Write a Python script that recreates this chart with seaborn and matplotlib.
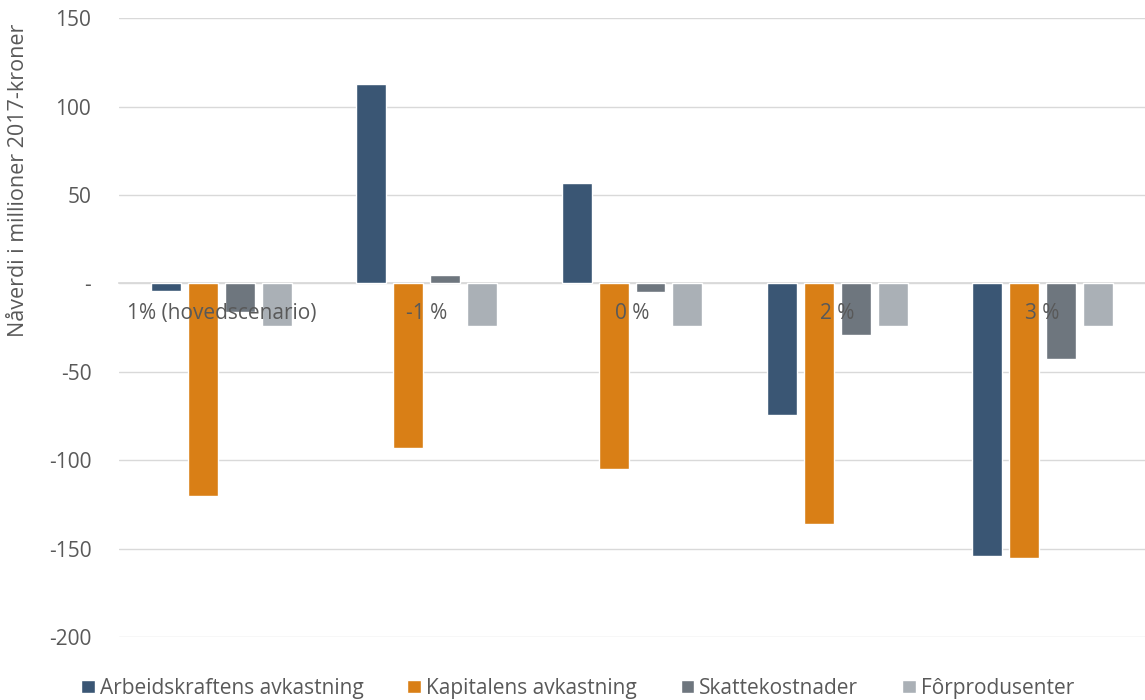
import numpy as np
import pandas as pd
import matplotlib
matplotlib.use("Agg")
import matplotlib.pyplot as plt
import seaborn as sns

# scenarios on the x axis
scenarios = ["1% (hovedscenario)", "-1 %", "0 %", "2 %", "3 %"]
series = ["Arbeidskraftens avkastning", "Kapitalens avkastning", "Skattekostnader", "Fôrprodusenter"]

arbeid = [-4.5, 113, 57, -74.5, -154]
kapital = [-120, -93, -105, -136, -155.5]
skatt = [-16, 5, -5, -29, -43]
forprod = [-24, -24, -24, -24, -24]

colors = ["#3A5674", "#D97F16", "#6E767E", "#AAB0B6"]
TEXT = "#595959"

rows = []
for name, vals in zip(series, [arbeid, kapital, skatt, forprod]):
    for sc, v in zip(scenarios, vals):
        rows.append({"scenario": sc, "serie": name, "verdi": v})
df = pd.DataFrame(rows)

sns.set_theme(style="white")
plt.rcParams["font.family"] = ["Open Sans", "DejaVu Sans"]

fig = plt.figure(figsize=(11.45, 7), dpi=100)
ax = fig.add_axes([0.104, 0.09, 0.896, 0.884])

sns.barplot(data=df, x="scenario", y="verdi", hue="serie", order=scenarios,
            hue_order=series, palette=colors, width=0.72, gap=0.19,
            saturation=1, errorbar=None, ax=ax)

ax.set_ylim(-200, 150)
ax.set_xlim(-0.5, 4.5)
yt = [150, 100, 50, 0, -50, -100, -150, -200]
ax.set_yticks(yt)
ax.set_yticklabels(["-" if t == 0 else str(t) for t in yt])
ax.yaxis.grid(True, color="#D9D9D9", linewidth=1)
ax.tick_params(axis="y", length=0, pad=20, labelsize=15, labelcolor=TEXT)

# category axis crosses at zero, labels sit on top of the bars
ax.spines["bottom"].set_position(("data", 0))
ax.spines["bottom"].set_color("#D9D9D9")
ax.spines["bottom"].set_zorder(0.6)
for s in ["top", "right", "left"]:
    ax.spines[s].set_visible(False)
ax.yaxis.set_zorder(0.5)
ax.xaxis.set_zorder(5)
ax.tick_params(axis="x", length=0, pad=14, labelsize=15, labelcolor=TEXT)

ax.set_xlabel("")
ax.set_ylabel("Nåverdi i millioner 2017-kroner", fontsize=15.5, color=TEXT)
ax.yaxis.set_label_coords(-0.088, 0.738)

ax.legend(loc="center", bbox_to_anchor=(0.447, -0.083), ncol=4, frameon=False,
          fontsize=15, labelcolor=TEXT, handlelength=0.65, handleheight=0.65,
          handletextpad=0.25, columnspacing=2.1, borderpad=0)

fig.savefig("out.png", dpi=100)
